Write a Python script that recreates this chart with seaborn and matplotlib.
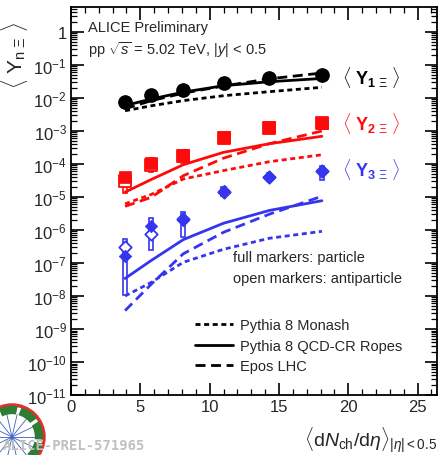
import numpy as np
import pandas as pd
import seaborn as sns
import matplotlib
matplotlib.use("Agg")
import matplotlib.pyplot as plt
from matplotlib.ticker import FixedLocator, FuncFormatter, MultipleLocator
from matplotlib.lines import Line2D
from matplotlib.patches import Rectangle, Ellipse

# ---------------- data ----------------
dndeta = [3.9, 5.8, 8.1, 11.0, 14.3, 18.1]

y1_part = [7.7e-3, 1.23e-2, 1.75e-2, 2.8e-2, 3.95e-2, 5.1e-2]
y1_anti = [7.4e-3, 1.2e-2, 1.7e-2, 2.75e-2, 3.9e-2, 5.0e-2]
y1_monash = [4.1e-3, 5.8e-3, 8.3e-3, 1.17e-2, 1.55e-2, 2.1e-2]
y1_ropes = [5.9e-3, 9.3e-3, 1.5e-2, 2.35e-2, 3.1e-2, 3.9e-2]
y1_epos = [4.7e-3, 8.3e-3, 1.4e-2, 2.3e-2, 3.8e-2, 5.7e-2]

y2_part = [3.9e-5, 1.1e-4, 1.9e-4, 6.4e-4, 1.3e-3, 1.75e-3]
y2_anti = [3.0e-5, 9.0e-5, 1.7e-4, 6.2e-4, 1.25e-3, 1.7e-3]
y2_sys_lo = [1.3e-5, 5.6e-5, 1.1e-4, 5.2e-4, 1.05e-3, 1.45e-3]
y2_sys_hi = [4.5e-5, 1.5e-4, 2.2e-4, 7.4e-4, 1.5e-3, 2.0e-3]
y2_monash = [6.2e-6, 1.2e-5, 3.5e-5, 6.3e-5, 1.17e-4, 1.9e-4]
y2_ropes = [1.4e-5, 3.4e-5, 9.5e-5, 2.25e-4, 4.1e-4, 6.9e-4]
y2_epos = [5.2e-6, 9.8e-6, 4.4e-5, 1.5e-4, 4.1e-4, 1.0e-3]

y3_part = [1.6e-7, 1.3e-6, 2.0e-6, 1.5e-5, 4.0e-5, 6.3e-5]
y3_anti = [3.0e-7, 7.5e-7, 2.1e-6, 1.45e-5, 3.9e-5, 6.0e-5]
y3_sys_lo = [1.1e-8, 2.4e-7, 6.0e-7, 1.1e-5, 3.0e-5, 3.3e-5]
y3_sys_hi = [5.5e-7, 2.3e-6, 3.5e-6, 2.0e-5, 5.2e-5, 8.8e-5]
y3_monash = [1.0e-8, 2.6e-8, 1.05e-7, 2.6e-7, 5.6e-7, 9.1e-7]
y3_ropes = [3.4e-8, 1.2e-7, 5.1e-7, 1.6e-6, 3.9e-6, 7.7e-6]
y3_epos = [3.6e-9, 2.3e-8, 1.9e-7, 8.5e-7, 3.0e-6, 1.05e-5]

x_ticks = [0, 5, 10, 15, 20, 25]
y_ticks = [10.0 ** k for k in range(-11, 1)]
model_names = ["Pythia 8 Monash", "Pythia 8 QCD-CR Ropes", "Epos LHC"]

BLACK = "#000000"
RED = "#ff0a0a"
BLUE = "#3535ef"

STY = {"monash": (0, (1.8, 1.3)), "ropes": "-", "epos": (0, (3.6, 2.0))}

# ---------------- figure ----------------
sns.set_style("ticks")
plt.rcParams["font.family"] = ["Liberation Sans", "DejaVu Sans"]
plt.rcParams["mathtext.fontset"] = "custom"
plt.rcParams["mathtext.rm"] = "Liberation Sans"
plt.rcParams["mathtext.it"] = "Liberation Sans:italic"
plt.rcParams["mathtext.bf"] = "Liberation Sans:bold"

fig = plt.figure(figsize=(4.41, 4.56), dpi=100)
ax = fig.add_axes([71 / 441, 1 - 396 / 456, (437 - 71) / 441, (396 - 8) / 456])
ax.set_yscale("log")

series = [
    (y1_part, y1_anti, None, None, y1_monash, y1_ropes, y1_epos, BLACK, "o", 85),
    (y2_part, y2_anti, y2_sys_lo, y2_sys_hi, y2_monash, y2_ropes, y2_epos, RED, "s", 65),
    (y3_part, y3_anti, y3_sys_lo, y3_sys_hi, y3_monash, y3_ropes, y3_epos, BLUE, "D", 40),
]

for part, anti, slo, shi, mon, rop, epo, col, mk, sz in series:
    for vals, key in ((mon, "monash"), (rop, "ropes"), (epo, "epos")):
        sns.lineplot(x=dndeta, y=vals, ax=ax, color=col, lw=2.0,
                     linestyle=STY[key], zorder=3)
    if slo is not None:
        for xv, lo, hi in zip(dndeta, slo, shi):
            ax.add_patch(Rectangle((xv - 0.15, lo), 0.3, hi - lo, fill=False,
                                   edgecolor=col, lw=1.2, zorder=4))
    sns.scatterplot(x=dndeta, y=anti, ax=ax, marker=mk, s=sz, facecolor="white",
                    edgecolor=col, linewidth=1.3, zorder=5)
    sns.scatterplot(x=dndeta, y=part, ax=ax, marker=mk, s=sz, color=col,
                    edgecolor=col, linewidth=0.5, zorder=6)

ax.set_xlim(0, 26.4)
ax.set_ylim(1e-11, 5.7)
ax.xaxis.set_major_locator(FixedLocator(x_ticks))
ax.xaxis.set_minor_locator(MultipleLocator(1))
ax.yaxis.set_major_locator(FixedLocator(y_ticks))
minors = [m * 10.0 ** k for k in range(-11, 1) for m in range(2, 10)]
ax.yaxis.set_minor_locator(FixedLocator(minors))


def yfmt(v, pos):
    e = int(round(np.log10(v)))
    return "1" if e == 0 else r"$10^{%d}$" % e


ax.yaxis.set_major_formatter(FuncFormatter(yfmt))
ax.tick_params(which="both", direction="in", top=True, right=True, color="black")
ax.tick_params(which="major", length=9, width=1.2, labelsize=12, pad=3)
ax.tick_params(which="minor", length=4.5, width=0.9)
for s in ax.spines.values():
    s.set_linewidth(1.3)
    s.set_color("black")
ax.set_xlabel("")
ax.set_ylabel("")

# texts
fig.text(88 / 441, 1 - 28 / 456, "ALICE Preliminary", fontsize=10.5, va="center")
fig.text(88 / 441, 1 - 50 / 456, r"pp $\sqrt{s}$ = 5.02 TeV, $|y|$ < 0.5",
         fontsize=10.5, va="center")
for lab, col, yp in ((r"$\langle\ \mathbf{Y}_{\mathbf{1}\ \Xi}\ \rangle$", BLACK, 77),
                     (r"$\langle\ \mathbf{Y}_{\mathbf{2}\ \Xi}\ \rangle$", RED, 123),
                     (r"$\langle\ \mathbf{Y}_{\mathbf{3}\ \Xi}\ \rangle$", BLUE, 170)):
    fig.text(371 / 441, 1 - yp / 456, lab, color=col, fontsize=13,
             ha="center", va="center")
fig.text(233 / 441, 1 - 258 / 456, "full markers: particle", fontsize=10.5, va="center")
fig.text(233 / 441, 1 - 279 / 456, "open markers: antiparticle", fontsize=10.5, va="center")

handles = [Line2D([], [], color="black", lw=2, linestyle=STY["monash"]),
           Line2D([], [], color="black", lw=2, linestyle=STY["ropes"]),
           Line2D([], [], color="black", lw=2, linestyle=STY["epos"])]
fig.legend(handles, model_names, loc="upper left",
           bbox_to_anchor=(188 / 441, 1 - 312 / 456), frameon=False,
           fontsize=10.5, handlelength=2.6, handletextpad=0.5,
           labelspacing=0.45, borderpad=0)

fig.text(15 / 441, 1 - 55 / 456,
         r"$\langle\ \mathrm{Y}_{\mathrm{n}\ \Xi}\ \rangle$",
         rotation=90, fontsize=15, ha="center", va="center")
fig.text(437 / 441, 1 - 440 / 456,
         r"$\langle \mathrm{d}N_{\mathrm{ch}}/\mathrm{d}\eta \rangle_{|\eta|<0.5}$",
         fontsize=14, ha="right", va="center")

# logo (decorative) + watermark
lx, ly, r = 12 / 441, 1 - 438 / 456, 32
fig.patches.append(Ellipse((lx, ly), 2 * r / 441, 2 * r / 456, transform=fig.transFigure,
                           facecolor="none", edgecolor="#e03030", lw=2.5))
fig.patches.append(Ellipse((lx, ly), 2 * (r - 5) / 441, 2 * (r - 5) / 456,
                           transform=fig.transFigure, facecolor="none",
                           edgecolor="#2e7d32", lw=6, linestyle=(0, (2, 0.4))))
for ang in np.linspace(0, 2 * np.pi, 14, endpoint=False):
    fig.lines.append(Line2D([lx, lx + np.cos(ang) * (r - 9) / 441],
                            [ly, ly + np.sin(ang) * (r - 9) / 456],
                            transform=fig.transFigure, color="#3a5fc0", lw=0.6))
fig.text(3 / 441, 1 - 446 / 456, "ALICE-PREL-571965", color="#c0c0c0",
         fontsize=10, family="DejaVu Sans Mono", weight="bold", va="center")

fig.savefig("out.png", dpi=100)
